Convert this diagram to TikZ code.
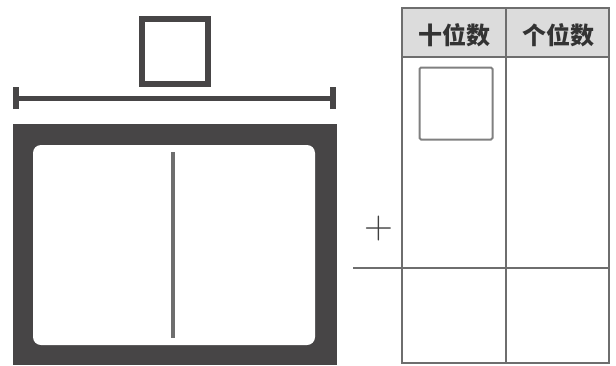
\documentclass[tikz,border=0pt]{standalone}
\usepackage{fontspec}
\newfontfamily\cjk{Noto Sans CJK SC}
\definecolor{darkgray}{HTML}{474546}
\definecolor{linegray}{HTML}{6E6E6E}
\definecolor{headgray}{HTML}{DCDCDC}

\begin{document}
\begin{tikzpicture}[
	x=1pt, y=-1pt,
	thickline/.style={
		draw=darkgray,
		line width=6pt
	},
	tableline/.style={
		draw=linegray,
		line width=1.8pt
	},
	header/.style={
		font=\cjk\bfseries\fontsize{24}{26}\selectfont,
		text=black!80,
		inner sep=0pt
	},
]
\useasboundingbox (0,0) rectangle (616,365);

%% Outer frame %%
\fill[darkgray] (13,124) rectangle (337,365);
\fill[white, rounded corners=8pt] (33,145) rectangle (315,345);
\draw[line width=4pt, draw=linegray] (173,152) -- (173,338);

%% Width bar %%
\coordinate (barl) at (16,98);
\coordinate (barr) at (333,98);
\draw[darkgray, line width=5pt] (barl) -- (barr);
\draw[darkgray, line width=5.5pt] ([yshift=-11pt]barl) -- ([yshift=11pt]barl);
\draw[darkgray, line width=6.5pt] ([yshift=-11pt]barr) -- ([yshift=11pt]barr);

% small square above %
\draw[thickline] (141.5,18.5) rectangle (207.5,84);

%% Place value table %%
\fill[headgray] (402,8) rectangle (609,57);
\draw[tableline] (402,8) rectangle (609,363);
\draw[tableline] (506,8) -- (506,363);
\draw[tableline] (402,57) -- (609,57);
\draw[tableline] (353,268) -- (609,268);

\node[header] (tens) at (454,35) {十位数};
\node[header] (ones) at (558,35) {个位数};

% square in tens column %
\draw[draw=gray, line width=2pt, rounded corners=1.5pt] (419.5,67.5) rectangle (492.5,139.5);

% plus sign %
\node[font=\fontsize{40}{40}\selectfont, text=black!75, inner sep=0pt, anchor=center] (plus) at (379,229) {+};

\end{tikzpicture}
\end{document}
